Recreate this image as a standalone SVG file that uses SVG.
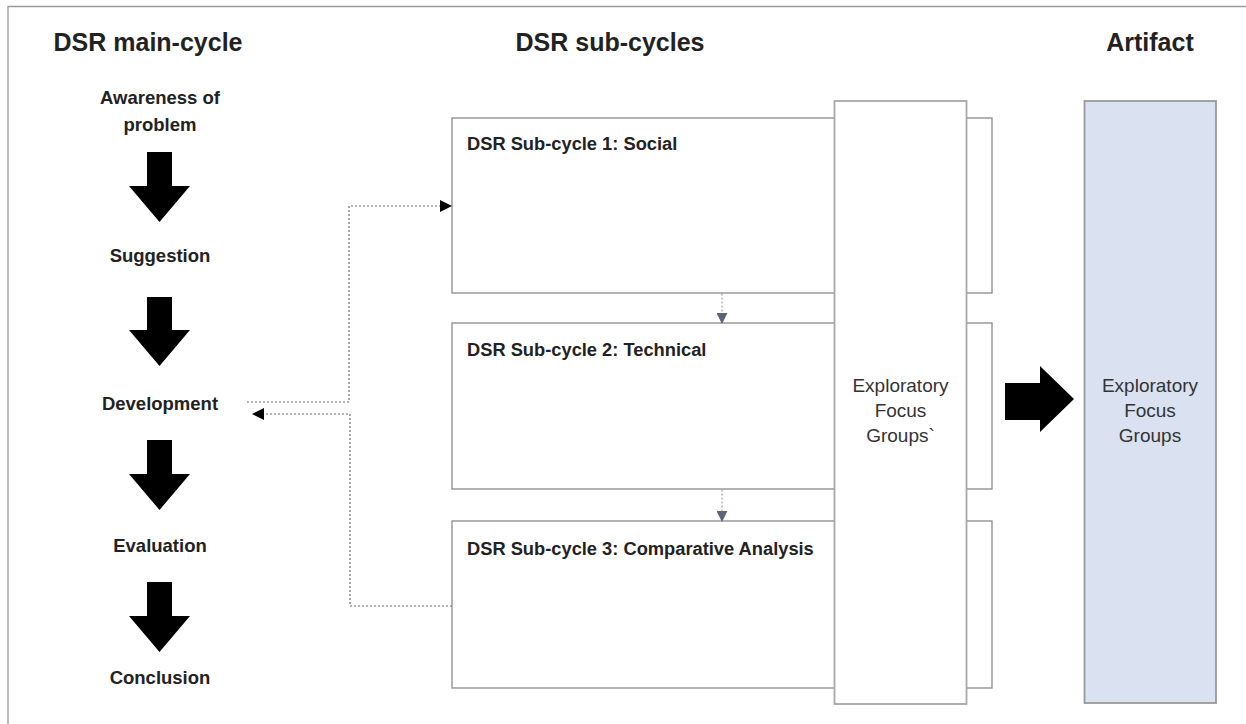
<svg xmlns="http://www.w3.org/2000/svg" width="1246" height="724" viewBox="0 0 1246 724">
<style>
.title{font-family:"Liberation Sans",Arial,sans-serif;font-weight:bold;font-size:25px;fill:#222;text-anchor:middle}
.step{font-family:"Liberation Sans",Arial,sans-serif;font-weight:bold;font-size:18.5px;fill:#222;text-anchor:middle}
.sub{font-family:"Liberation Sans",Arial,sans-serif;font-weight:bold;font-size:18.3px;fill:#222}
.plain{font-family:"Liberation Sans",Arial,sans-serif;font-size:19px;fill:#333;text-anchor:middle}
.box{fill:#fff;stroke:#8a8a8a;stroke-width:1.3}
.tall{fill:#fff;stroke:#a8a8a8;stroke-width:1.8}
.art{fill:#dae2f2;stroke:#9a9a9a;stroke-width:1.8}
.dot{fill:none;stroke:#6e6e6e;stroke-width:1.2;stroke-dasharray:2 2}
.bigarrow{fill:#000}
</style>
<defs>
<marker id="blk" viewBox="0 0 12 12" refX="11" refY="6" markerWidth="12" markerHeight="12" markerUnits="userSpaceOnUse" orient="auto">
<path d="M0,0 L12,6 L0,12 Z" fill="#000"/>
</marker>
<marker id="blu" viewBox="0 0 12 12" refX="11" refY="6" markerWidth="11" markerHeight="11" markerUnits="userSpaceOnUse" orient="auto">
<path d="M0,0 L12,6 L0,12 Z" fill="#5b6478"/>
</marker>
</defs>
<rect width="1246" height="724" fill="#fff"/>
<g id="frame">
<path d="M8,724 L8,6.5 L1246,6.5" fill="none" stroke="#9a9a9a" stroke-width="1.3"/>
</g>
<g id="titles">
<text class="title" x="148" y="51">DSR main-cycle</text>
<text class="title" x="610" y="51">DSR sub-cycles</text>
<text class="title" x="1150" y="51">Artifact</text>
</g>
<g id="main-cycle">
<g id="awareness"><text class="step" x="160" y="104">Awareness of</text><text class="step" x="160" y="131">problem</text></g>
<g id="suggestion"><text class="step" x="160" y="262">Suggestion</text></g>
<g id="development"><text class="step" x="160" y="410">Development</text></g>
<g id="evaluation"><text class="step" x="160" y="552">Evaluation</text></g>
<g id="conclusion"><text class="step" x="160" y="684">Conclusion</text></g>
<path class="bigarrow" d="M147,152 L172,152 L172,186 L190,186 L159.5,222 L129,186 L147,186 Z"/>
<path class="bigarrow" d="M147,297 L172,297 L172,330 L190,330 L159.5,366 L129,330 L147,330 Z"/>
<path class="bigarrow" d="M147,440 L172,440 L172,474 L190,474 L159.5,510 L129,474 L147,474 Z"/>
<path class="bigarrow" d="M147,582 L172,582 L172,616 L190,616 L159.5,652 L129,616 L147,616 Z"/>
</g>
<g id="sub1"><rect class="box" x="452" y="118" width="540" height="175"/><text class="sub" x="467" y="150">DSR Sub-cycle 1: Social</text></g>
<g id="sub2"><rect class="box" x="452" y="323" width="540" height="166"/><text class="sub" x="467" y="356">DSR Sub-cycle 2: Technical</text></g>
<g id="sub3"><rect class="box" x="452" y="521" width="540" height="167"/><text class="sub" x="467" y="555">DSR Sub-cycle 3: Comparative Analysis</text></g>
<g id="focus-groups"><rect class="tall" x="834.5" y="101" width="132" height="603"/>
<text class="plain" x="900.5" y="392">Exploratory</text><text class="plain" x="900.5" y="417">Focus</text><text class="plain" x="900.5" y="442">Groups`</text></g>
<g id="artifact"><rect class="art" x="1084.5" y="101" width="131.5" height="602"/>
<text class="plain" x="1150" y="392">Exploratory</text><text class="plain" x="1150" y="417">Focus</text><text class="plain" x="1150" y="442">Groups</text></g>
<g id="connectors">
<path class="dot" d="M247,402 L349,402 L349,206 L451,206" marker-end="url(#blk)"/>
<path class="dot" d="M452,606 L350,606 L350,414 L253,414" marker-end="url(#blk)"/>
<path d="M722,293.5 L722,323" fill="none" stroke="#a0a6b4" stroke-width="1.3" stroke-dasharray="2 2" marker-end="url(#blu)"/>
<path d="M722,489.5 L722,521" fill="none" stroke="#a0a6b4" stroke-width="1.3" stroke-dasharray="2 2" marker-end="url(#blu)"/>
<path class="bigarrow" d="M1005,383 L1040,383 L1040,366 L1074,399 L1040,432 L1040,420 L1005,420 Z"/>
</g>
</svg>
